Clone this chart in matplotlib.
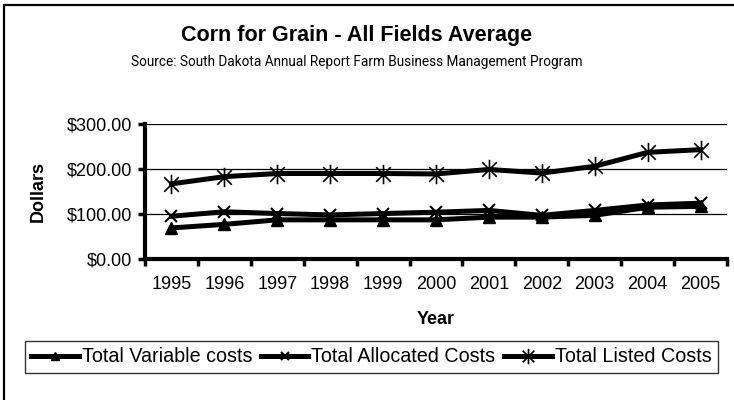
import matplotlib
matplotlib.use("Agg")
import matplotlib.pyplot as plt
from matplotlib.path import Path
from matplotlib.patches import Rectangle
import numpy as np

plt.rcParams['font.family'] = ['Liberation Sans', 'DejaVu Sans']

years = ['1995', '1996', '1997', '1998', '1999', '2000', '2001', '2002', '2003', '2004', '2005']
variable_costs = [69, 77, 87, 87, 87, 87, 93, 93, 97, 115, 117]
allocated_costs = [95, 105, 101, 98, 101, 104, 108, 97, 108, 120, 124]
listed_costs = [167, 183, 190, 190, 190, 189, 199, 191, 206, 237, 243]
y_ticks = [0, 100, 200, 300]

asterisk = Path([(0, -1), (0, 1), (-0.75, -0.75), (0.75, 0.75), (-0.75, 0.75), (0.75, -0.75)],
                [Path.MOVETO, Path.LINETO, Path.MOVETO, Path.LINETO, Path.MOVETO, Path.LINETO])

fig = plt.figure(figsize=(7.34, 4.0), dpi=100)
fig.patches.append(Rectangle((4/734, -0.1), 1.2, 1 - 5/400 + 0.1, transform=fig.transFigure,
                             fill=False, edgecolor='black', linewidth=1.6, zorder=0))

ax = fig.add_axes([145/734, 1 - 259/400, (727 - 145)/734, (259 - 124)/400])
x = np.arange(len(years))
ax.plot(x, variable_costs, color='black', linewidth=3.6, marker='^', markersize=8,
        label='Total Variable costs', zorder=3)
ax.plot(x, allocated_costs, color='black', linewidth=3.6, marker='x', markersize=8,
        markeredgewidth=1.5, label='Total Allocated Costs', zorder=3)
ax.plot(x, listed_costs, color='black', linewidth=3.6, marker=asterisk, markersize=14,
        markeredgewidth=1.2, label='Total Listed Costs', zorder=3)

ax.set_xlim(-0.5, len(years) - 0.5)
ax.set_ylim(0, 300)
ax.set_yticks(y_ticks)
ax.set_yticklabels(['${:,.2f}'.format(v) for v in y_ticks], fontsize=13)
ax.set_xticks(x)
ax.set_xticklabels(years, fontsize=13)
ax.set_xticks(np.arange(len(years) + 1) - 0.5, minor=True)
ax.tick_params(axis='x', which='major', length=0, pad=12)
ax.tick_params(axis='x', which='minor', length=5, width=2.5, direction='out')
ax.tick_params(axis='y', which='major', length=5, width=2.5, direction='out', pad=4)
ax.yaxis.grid(True, color='black', linewidth=0.9)
ax.set_axisbelow(True)
for s in ['top', 'right']:
    ax.spines[s].set_visible(False)
for s in ['left', 'bottom']:
    ax.spines[s].set_linewidth(3)

ax.set_xlabel('Year', fontsize=13, fontweight='bold', labelpad=13)
ax.set_ylabel('Dollars', fontsize=13, fontweight='bold', labelpad=15)

fig.text(357/734, 1 - 36/400, 'Corn for Grain - All Fields Average', ha='center', va='center',
         fontsize=15.5, fontweight='bold')
fig.text(357/734, 1 - 62/400, 'Source: South Dakota Annual Report Farm Business Management Program',
         ha='center', va='center', fontsize=9.8, family=['Roboto', 'DejaVu Sans'])

leg = fig.legend(loc='center', bbox_to_anchor=((19 + 724) / 2 / 734, 1 - 357/400), ncol=3,
                 fontsize=14.2, frameon=True, fancybox=False, edgecolor='black',
                 handlelength=2.4, handletextpad=0.15, columnspacing=0.45, borderpad=0.35,
                 borderaxespad=0, markerscale=0.8)
leg.get_frame().set_linewidth(1.0)

fig.savefig('out.png', dpi=100)
